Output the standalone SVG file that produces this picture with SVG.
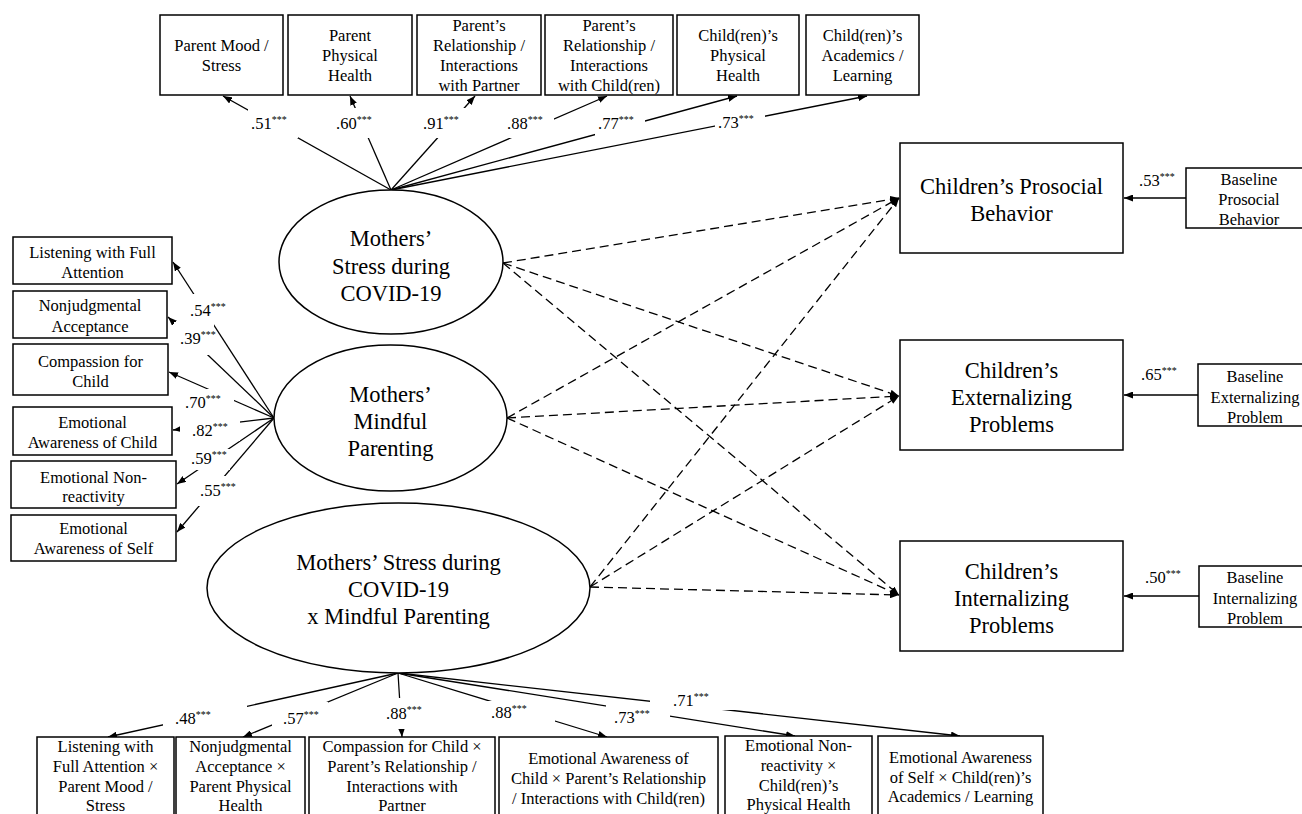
<svg xmlns="http://www.w3.org/2000/svg" width="1302" height="814" viewBox="0 0 1302 814">
<style>
.box{fill:#fff;stroke:#000;stroke-width:1.5}
.ell{fill:#fff;stroke:#000;stroke-width:1.5}
.t{font-family:"Liberation Serif","Times New Roman",serif;font-size:16.5px;text-anchor:middle;fill:#000}
.tl{font-family:"Liberation Serif","Times New Roman",serif;font-size:22.5px;text-anchor:middle;fill:#000}
.lbl{font-family:"Liberation Serif","Times New Roman",serif;font-size:16.5px;fill:#000}
.sup{font-size:10px}
.ln{stroke:#000;stroke-width:1.3;fill:none;marker-end:url(#ah)}
.dl{stroke-dasharray:9 5}
.bg{fill:#fff;stroke:none}
</style>
<defs>
<marker id="ah" viewBox="0 0 9 7" refX="9" refY="3.5" markerWidth="9" markerHeight="7" markerUnits="userSpaceOnUse" orient="auto">
<path d="M0,0 L9,3.5 L0,7 z" fill="#000"/>
</marker>
</defs>
<rect width="1302" height="814" fill="#fff"/>
<g id="connectors">
<line class="ln" x1="391" y1="190" x2="223" y2="96"/>
<line class="ln" x1="391" y1="190" x2="350" y2="96"/>
<line class="ln" x1="391" y1="190" x2="475" y2="96"/>
<line class="ln" x1="391" y1="190" x2="607" y2="96"/>
<line class="ln" x1="391" y1="190" x2="737" y2="96"/>
<line class="ln" x1="391" y1="190" x2="867" y2="96"/>
<line class="ln" x1="274" y1="418" x2="173" y2="262"/>
<line class="ln" x1="274" y1="418" x2="168" y2="317"/>
<line class="ln" x1="274" y1="418" x2="169" y2="372"/>
<line class="ln" x1="274" y1="418" x2="173" y2="430"/>
<line class="ln" x1="274" y1="418" x2="177" y2="484"/>
<line class="ln" x1="274" y1="418" x2="177" y2="532"/>
<line class="ln" x1="398" y1="673" x2="108" y2="737"/>
<line class="ln" x1="398" y1="673" x2="243" y2="737"/>
<line class="ln" x1="398" y1="673" x2="402" y2="737"/>
<line class="ln" x1="398" y1="673" x2="607" y2="737"/>
<line class="ln" x1="398" y1="673" x2="795" y2="736"/>
<line class="ln" x1="398" y1="673" x2="960" y2="736"/>
<line class="ln" x1="1186" y1="198" x2="1124" y2="198"/>
<line class="ln" x1="1198" y1="395" x2="1124" y2="395"/>
<line class="ln" x1="1199" y1="596" x2="1124" y2="596"/>
<line class="ln dl" x1="503" y1="263" x2="899" y2="198"/>
<line class="ln dl" x1="503" y1="263" x2="899" y2="396"/>
<line class="ln dl" x1="503" y1="263" x2="899" y2="595"/>
<line class="ln dl" x1="507" y1="418" x2="899" y2="198"/>
<line class="ln dl" x1="507" y1="418" x2="899" y2="396"/>
<line class="ln dl" x1="507" y1="418" x2="899" y2="595"/>
<line class="ln dl" x1="590" y1="587" x2="899" y2="198"/>
<line class="ln dl" x1="590" y1="587" x2="899" y2="396"/>
<line class="ln dl" x1="590" y1="587" x2="899" y2="595"/>
</g>
<g id="edge-labels">
<rect class="bg" x="248" y="108" width="50" height="30"/><text class="lbl" x="251" y="129">.51<tspan class="sup" dy="-6">***</tspan></text>
<rect class="bg" x="333" y="108" width="50" height="30"/><text class="lbl" x="336" y="129">.60<tspan class="sup" dy="-6">***</tspan></text>
<rect class="bg" x="420" y="108" width="48" height="30"/><text class="lbl" x="423" y="129">.91<tspan class="sup" dy="-6">***</tspan></text>
<rect class="bg" x="504" y="108" width="50" height="30"/><text class="lbl" x="507" y="129">.88<tspan class="sup" dy="-6">***</tspan></text>
<rect class="bg" x="595" y="108" width="50" height="30"/><text class="lbl" x="598" y="129">.77<tspan class="sup" dy="-6">***</tspan></text>
<rect class="bg" x="715" y="108" width="50" height="30"/><text class="lbl" x="718" y="128">.73<tspan class="sup" dy="-6">***</tspan></text>
<rect class="bg" x="187" y="294" width="43" height="30"/><text class="lbl" x="190" y="316">.54<tspan class="sup" dy="-6">***</tspan></text>
<rect class="bg" x="174" y="322" width="40" height="33"/><text class="lbl" x="180" y="344">.39<tspan class="sup" dy="-6">***</tspan></text>
<rect class="bg" x="183" y="389" width="51" height="24"/><text class="lbl" x="185" y="408">.70<tspan class="sup" dy="-6">***</tspan></text>
<rect class="bg" x="180" y="420" width="60" height="21"/><text class="lbl" x="192" y="436">.82<tspan class="sup" dy="-6">***</tspan></text>
<rect class="bg" x="185" y="449" width="45" height="21"/><text class="lbl" x="191" y="464">.59<tspan class="sup" dy="-6">***</tspan></text>
<rect class="bg" x="196" y="476" width="42" height="30"/><text class="lbl" x="200" y="496">.55<tspan class="sup" dy="-6">***</tspan></text>
<rect class="bg" x="163" y="704" width="84" height="26"/><text class="lbl" x="175" y="724">.48<tspan class="sup" dy="-6">***</tspan></text>
<rect class="bg" x="272" y="702" width="56" height="26"/><text class="lbl" x="283" y="724">.57<tspan class="sup" dy="-6">***</tspan></text>
<rect class="bg" x="382" y="698" width="44" height="31"/><text class="lbl" x="386" y="719">.88<tspan class="sup" dy="-6">***</tspan></text>
<rect class="bg" x="487" y="701" width="68" height="23"/><text class="lbl" x="491" y="718">.88<tspan class="sup" dy="-6">***</tspan></text>
<rect class="bg" x="606" y="705" width="64" height="23"/><text class="lbl" x="614" y="723">.73<tspan class="sup" dy="-6">***</tspan></text>
<rect class="bg" x="650" y="688" width="90" height="22"/><text class="lbl" x="673" y="706">.71<tspan class="sup" dy="-6">***</tspan></text>
<text class="lbl" x="1139" y="186">.53<tspan class="sup" dy="-6">***</tspan></text>
<text class="lbl" x="1141" y="380">.65<tspan class="sup" dy="-6">***</tspan></text>
<text class="lbl" x="1145" y="583">.50<tspan class="sup" dy="-6">***</tspan></text>
</g>
<g id="parent-mood">
<rect class="box" x="160" y="15" width="123" height="80"/>
<text class="t" x="221.5" y="51">Parent Mood /</text><text class="t" x="221.5" y="71">Stress</text>
</g>
<g id="parent-health">
<rect class="box" x="288" y="15" width="124" height="80"/>
<text class="t" x="350" y="41">Parent</text><text class="t" x="350" y="61">Physical</text><text class="t" x="350" y="81">Health</text>
</g>
<g id="parent-partner">
<rect class="box" x="417" y="15" width="124" height="80"/>
<text class="t" x="479" y="31">Parent’s</text><text class="t" x="479" y="51">Relationship /</text><text class="t" x="479" y="71">Interactions</text><text class="t" x="479" y="91">with Partner</text>
</g>
<g id="parent-child">
<rect class="box" x="545" y="15" width="128" height="80"/>
<text class="t" x="609" y="31">Parent’s</text><text class="t" x="609" y="51">Relationship /</text><text class="t" x="609" y="71">Interactions</text><text class="t" x="609" y="91">with Child(ren)</text>
</g>
<g id="child-health">
<rect class="box" x="677" y="15" width="122" height="80"/>
<text class="t" x="738" y="41">Child(ren)’s</text><text class="t" x="738" y="61">Physical</text><text class="t" x="738" y="81">Health</text>
</g>
<g id="child-academics">
<rect class="box" x="806" y="15" width="113" height="80"/>
<text class="t" x="862.5" y="41">Child(ren)’s</text><text class="t" x="862.5" y="61">Academics /</text><text class="t" x="862.5" y="81">Learning</text>
</g>
<g id="listening">
<rect class="box" x="13" y="237" width="159" height="47"/>
<text class="t" x="92.5" y="258">Listening with Full</text><text class="t" x="92.5" y="278">Attention</text>
</g>
<g id="nonjudgmental">
<rect class="box" x="13" y="291" width="154" height="47"/>
<text class="t" x="90" y="311">Nonjudgmental</text><text class="t" x="90" y="332">Acceptance</text>
</g>
<g id="compassion">
<rect class="box" x="13" y="344" width="155" height="51"/>
<text class="t" x="90.5" y="367">Compassion for</text><text class="t" x="90.5" y="387">Child</text>
</g>
<g id="aware-child">
<rect class="box" x="13" y="407" width="159" height="48"/>
<text class="t" x="92.5" y="428">Emotional</text><text class="t" x="92.5" y="448">Awareness of Child</text>
</g>
<g id="nonreactivity">
<rect class="box" x="11" y="461" width="165" height="47"/>
<text class="t" x="93.5" y="483">Emotional Non-</text><text class="t" x="93.5" y="502">reactivity</text>
</g>
<g id="aware-self">
<rect class="box" x="11" y="515" width="165" height="46"/>
<text class="t" x="93.5" y="534">Emotional</text><text class="t" x="93.5" y="554">Awareness of Self</text>
</g>
<g id="stress">
<ellipse class="ell" cx="391" cy="262" rx="112" ry="72"/>
<text class="tl" x="391" y="246">Mothers’</text><text class="tl" x="391" y="274">Stress during</text><text class="tl" x="391" y="301">COVID-19</text>
</g>
<g id="mindful">
<ellipse class="ell" cx="390.5" cy="418" rx="116.5" ry="73"/>
<text class="tl" x="390.5" y="402">Mothers’</text><text class="tl" x="390.5" y="429">Mindful</text><text class="tl" x="390.5" y="456">Parenting</text>
</g>
<g id="interaction">
<ellipse class="ell" cx="398.5" cy="588" rx="191.5" ry="85"/>
<text class="tl" x="398.5" y="570">Mothers’ Stress during</text><text class="tl" x="398.5" y="597">COVID-19</text><text class="tl" x="398.5" y="624">x Mindful Parenting</text>
</g>
<g id="prosocial">
<rect class="box" x="900" y="143" width="223" height="110"/>
<text class="tl" x="1011.5" y="194">Children’s Prosocial</text><text class="tl" x="1011.5" y="221">Behavior</text>
</g>
<g id="externalizing">
<rect class="box" x="900" y="340" width="223" height="110"/>
<text class="tl" x="1011.5" y="378">Children’s</text><text class="tl" x="1011.5" y="405">Externalizing</text><text class="tl" x="1011.5" y="432">Problems</text>
</g>
<g id="internalizing">
<rect class="box" x="900" y="541" width="223" height="110"/>
<text class="tl" x="1011.5" y="579">Children’s</text><text class="tl" x="1011.5" y="606">Internalizing</text><text class="tl" x="1011.5" y="633">Problems</text>
</g>
<g id="base-prosocial">
<rect class="box" x="1186" y="168" width="130" height="60"/>
<text class="t" x="1249" y="185">Baseline</text><text class="t" x="1249" y="205">Prosocial</text><text class="t" x="1249" y="225">Behavior</text>
</g>
<g id="base-externalizing">
<rect class="box" x="1198" y="364" width="120" height="62"/>
<text class="t" x="1255" y="382">Baseline</text><text class="t" x="1255" y="403">Externalizing</text><text class="t" x="1255" y="423">Problem</text>
</g>
<g id="base-internalizing">
<rect class="box" x="1199" y="566" width="120" height="61"/>
<text class="t" x="1255" y="583">Baseline</text><text class="t" x="1255" y="604">Internalizing</text><text class="t" x="1255" y="624">Problem</text>
</g>
<g id="int-listening">
<rect class="box" x="37" y="737" width="137" height="90"/>
<text class="t" x="105.5" y="752">Listening with</text><text class="t" x="105.5" y="772">Full Attention ×</text><text class="t" x="105.5" y="792">Parent Mood /</text><text class="t" x="105.5" y="811">Stress</text>
</g>
<g id="int-nonjudgmental">
<rect class="box" x="176" y="737" width="129" height="90"/>
<text class="t" x="240.5" y="752">Nonjudgmental</text><text class="t" x="240.5" y="772">Acceptance ×</text><text class="t" x="240.5" y="792">Parent Physical</text><text class="t" x="240.5" y="811">Health</text>
</g>
<g id="int-compassion">
<rect class="box" x="309" y="737" width="186" height="90"/>
<text class="t" x="402" y="752">Compassion for Child ×</text><text class="t" x="402" y="772">Parent’s Relationship /</text><text class="t" x="402" y="792">Interactions with</text><text class="t" x="402" y="811">Partner</text>
</g>
<g id="int-aware-child">
<rect class="box" x="499" y="737" width="219" height="90"/>
<text class="t" x="608.5" y="764">Emotional Awareness of</text><text class="t" x="608.5" y="784">Child × Parent’s Relationship</text><text class="t" x="608.5" y="804">/ Interactions with Child(ren)</text>
</g>
<g id="int-nonreactivity">
<rect class="box" x="725" y="736" width="147" height="90"/>
<text class="t" x="798.5" y="751">Emotional Non-</text><text class="t" x="798.5" y="771">reactivity ×</text><text class="t" x="798.5" y="791">Child(ren)’s</text><text class="t" x="798.5" y="810">Physical Health</text>
</g>
<g id="int-aware-self">
<rect class="box" x="878" y="736" width="165" height="90"/>
<text class="t" x="960.5" y="763">Emotional Awareness</text><text class="t" x="960.5" y="783">of Self × Child(ren)’s</text><text class="t" x="960.5" y="802">Academics / Learning</text>
</g>
</svg>
